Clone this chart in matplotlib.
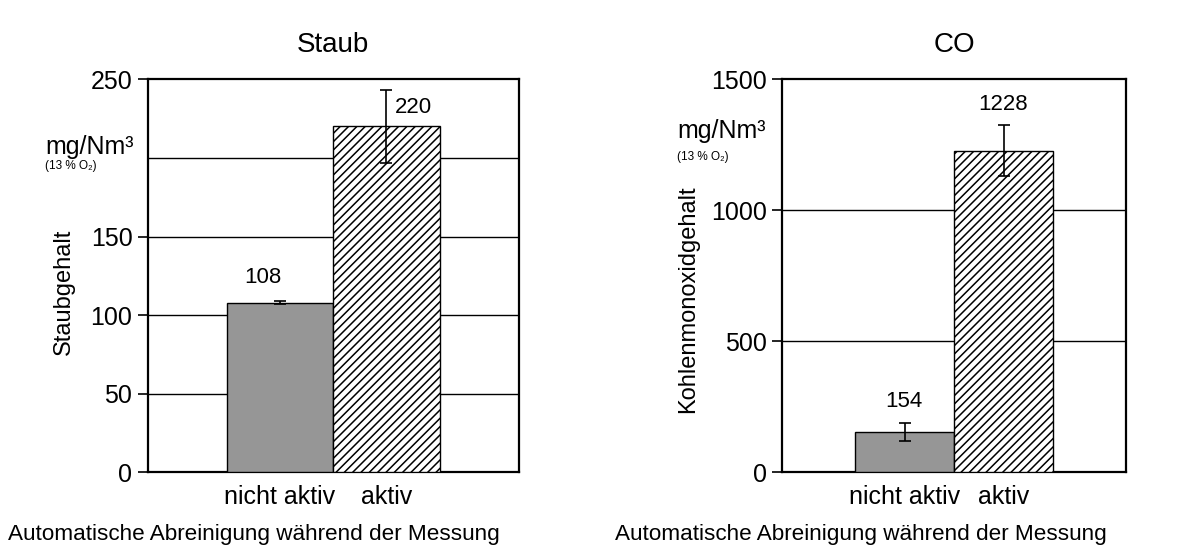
import matplotlib
matplotlib.use("Agg")
import matplotlib.pyplot as plt

plt.rcParams["font.family"] = ["Liberation Sans", "DejaVu Sans"]
plt.rcParams["hatch.linewidth"] = 1.1

categories = ["nicht aktiv", "aktiv"]

staub_values = [108, 220]
staub_err = [1, 23]
staub_ticks = [0, 50, 100, 150, 200, 250]
staub_hidden_tick = 200  # unit label sits there instead

co_values = [154, 1228]
co_err = [35, 97]
co_ticks = [0, 500, 1000, 1500]

xlabel_text = "Automatische Abreinigung während der Messung"


def draw_panel(ax, values, errs, ticks, title, ylabel, label_offsets, label_ha,
               hidden_tick=None):
    x = [0, 1]
    ax.bar(x, values, width=1.0, color=["#969696", "white"], edgecolor="black",
           linewidth=1.0, hatch=["", "////"], zorder=3)
    ax.errorbar(x, values, yerr=errs, fmt="none", ecolor="black",
                elinewidth=1.2, capsize=4, capthick=1.2, zorder=4)
    for xi, v, off, ha in zip(x, values, label_offsets, label_ha):
        ax.annotate(str(v), (xi, v), xytext=off, textcoords="offset pixels",
                    ha=ha, va="center", fontsize=16)
    ax.set_xlim(-1.24, 2.24)
    ax.set_ylim(ticks[0], ticks[-1])
    ax.set_yticks(ticks)
    ax.set_yticklabels(["" if t == hidden_tick else str(t) for t in ticks])
    ax.tick_params(axis="y", direction="out", length=7, width=1.2,
                   labelsize=18, pad=4)
    for t, tk in zip(ticks, ax.yaxis.get_major_ticks()):
        if t == hidden_tick:
            tk.tick1line.set_visible(False)
    ax.set_xticks(x)
    ax.set_xticklabels(categories, fontsize=18)
    ax.tick_params(axis="x", length=0, pad=9)
    for t in ticks[1:-1]:
        ax.axhline(t, color="black", linewidth=1.0, zorder=1)
    for s in ax.spines.values():
        s.set_linewidth(1.6)
    ax.set_title(title, fontsize=20, pad=20)
    ax.set_ylabel(ylabel, fontsize=17)


fig = plt.figure(figsize=(11.86, 5.49), dpi=100)
ax1 = fig.add_axes([0.1245, 0.1397, 0.3128, 0.7158])
ax2 = fig.add_axes([0.6594, 0.1397, 0.2901, 0.7158])

draw_panel(ax1, staub_values, staub_err, staub_ticks, "Staub", "Staubgehalt",
           [(-17, 25), (8, 19)], ["center", "left"], staub_hidden_tick)
draw_panel(ax2, co_values, co_err, co_ticks, "CO", "Kohlenmonoxidgehalt",
           [(-1, 30), (0, 46)], ["center", "center"])
ax1.yaxis.set_label_coords(-0.195, 0.46)
ax2.yaxis.set_label_coords(-0.241, 0.44)

fig.text(0.038, 0.733, "mg/Nm³", fontsize=18, va="center")
fig.text(0.038, 0.697, "(13 % O₂)", fontsize=8.5, va="center")
fig.text(0.571, 0.762, "mg/Nm³", fontsize=18, va="center")
fig.text(0.571, 0.714, "(13 % O₂)", fontsize=8.5, va="center")

fig.text(0.214, 0.027, xlabel_text, fontsize=16.2, ha="center", va="center")
fig.text(0.726, 0.027, xlabel_text, fontsize=16.2, ha="center", va="center")

fig.savefig("out.png", dpi=100)
